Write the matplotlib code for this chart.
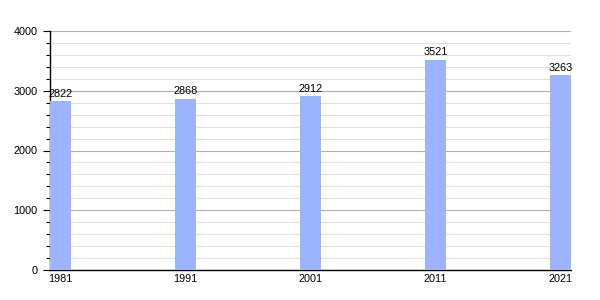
import numpy as np
import matplotlib.pyplot as plt
from matplotlib.ticker import MultipleLocator

years = [1981, 1991, 2001, 2011, 2021]
population = [2822, 2868, 2912, 3521, 3263]

plt.rcParams['font.family'] = ['Liberation Sans', 'DejaVu Sans']
plt.rcParams['font.size'] = 7.8

fig = plt.figure(figsize=(6, 3), dpi=100)
ax = fig.add_axes([50 / 600, 30 / 300, 521 / 600, 239 / 300])

bars = ax.bar(years, population, width=1.68, color='#9cb4ff', zorder=3)
for b, v in zip(bars, population):
    ax.text(b.get_x() + b.get_width() / 2, v + 40, str(v),
            ha='center', va='bottom', zorder=4)

ax.set_xlim(1981 - 0.84, 2021 + 0.84)
ax.set_ylim(0, 4000)
ax.set_xticks(years)
ax.yaxis.set_major_locator(MultipleLocator(1000))
ax.yaxis.set_minor_locator(MultipleLocator(200))
ax.grid(axis='y', which='major', color='#b0b0b0', linewidth=0.8, zorder=0)
ax.grid(axis='y', which='minor', color='#e0e0e0', linewidth=0.8, zorder=0)

for s in ['top', 'right']:
    ax.spines[s].set_visible(False)
for s in ['left', 'bottom']:
    ax.spines[s].set_color('black')
    ax.spines[s].set_linewidth(1)

ax.tick_params(axis='x', length=0, pad=3)
ax.tick_params(axis='y', which='major', length=5, width=0.8, pad=4)
ax.tick_params(axis='y', which='minor', length=3, width=0.8)

fig.savefig('out.png', dpi=100)
